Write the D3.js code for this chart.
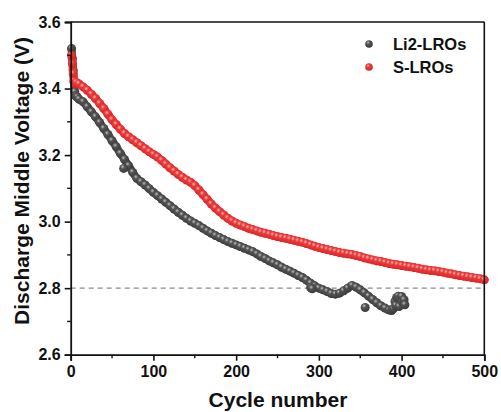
<!DOCTYPE html>
<html>
<head>
<meta charset="utf-8">
<script src="https://cdn.jsdelivr.net/npm/d3@7/dist/d3.min.js"></script>
<style>
  html, body { margin: 0; padding: 0; background: #fff; }
  svg text { font-family: "Liberation Sans", Arial, sans-serif; font-weight: bold; fill: #111; }
</style>
</head>
<body>
<svg id="chart" width="501" height="412"></svg>
<script>
// Discharge middle voltage per cycle, two cathode samples.
// Main trend of the Li2-LROs cell
const liCycles = [1,2,3,4,5,6,7,8,10,15,20,25,30,35,40,45,50,55,60,65,70,75,80,85,90,95,100,
  105,110,115,120,125,130,135,140,145,150,155,160,165,170,175,180,185,190,195,200,
  205,210,215,220,225,230,235,240,245,250,255,260,265,270,275,280,285,290,295,
  300,305,310,315,320,325,330,335,340,345,350,355,360,365,370,375,380,385,388,390];
const liVoltage = [3.520,3.490,3.455,3.420,3.390,3.378,3.376,3.374,3.368,3.360,3.345,3.330,3.315,3.298,3.280,3.262,3.243,3.225,3.205,3.187,3.168,3.148,3.130,3.120,3.110,3.099,3.088,
  3.078,3.068,3.058,3.048,3.038,3.028,3.019,3.010,3.002,2.995,2.988,2.980,2.972,2.965,2.958,2.952,2.946,2.940,2.935,2.930,
  2.925,2.920,2.915,2.910,2.903,2.895,2.889,2.882,2.876,2.870,2.863,2.857,2.851,2.845,2.838,2.832,2.824,2.815,2.807,
  2.800,2.795,2.790,2.784,2.782,2.785,2.792,2.800,2.808,2.803,2.795,2.786,2.776,2.766,2.756,2.747,2.740,2.734,2.733,2.738];
// Scattered Li2-LROs cycles (outliers and the end-of-life cluster)
const liScatterCycles = [64, 290, 291, 292, 356, 392, 393, 394, 396, 397, 398, 400, 401, 403, 404];
const liScatterVoltage = [3.160, 2.802, 2.800, 2.798, 2.742, 2.760, 2.748, 2.772, 2.776, 2.745, 2.768, 2.775, 2.758, 2.765, 2.750];

const sCycles = [1,2,3,4,5,7,10,15,20,25,30,35,40,45,50,55,60,65,70,75,80,85,90,95,100,
  105,110,115,120,125,130,135,140,145,150,155,160,165,170,175,180,185,190,195,200,
  205,210,215,220,225,230,235,240,245,250,255,260,265,270,275,280,285,290,295,300,
  305,310,315,320,325,330,335,340,345,350,355,360,365,370,375,380,385,390,395,400,
  405,410,415,420,425,430,435,440,445,450,455,460,465,470,475,480,485,490,495,500];
const sVoltage = [3.500,3.475,3.445,3.422,3.415,3.418,3.414,3.405,3.395,3.383,3.370,3.355,3.340,3.323,3.306,3.292,3.278,3.265,3.255,3.246,3.237,3.228,3.219,3.210,3.202,
  3.194,3.184,3.173,3.162,3.152,3.142,3.133,3.125,3.118,3.108,3.095,3.081,3.067,3.053,3.041,3.030,3.020,3.010,3.002,2.995,
  2.990,2.985,2.980,2.976,2.972,2.968,2.965,2.962,2.958,2.955,2.952,2.950,2.947,2.944,2.941,2.938,2.934,2.930,2.926,2.922,
  2.919,2.916,2.913,2.910,2.907,2.905,2.903,2.901,2.898,2.895,2.891,2.888,2.885,2.882,2.880,2.877,2.874,2.872,2.870,2.868,
  2.866,2.864,2.862,2.860,2.857,2.855,2.853,2.852,2.850,2.848,2.845,2.843,2.840,2.838,2.836,2.834,2.832,2.830,2.828,2.825];

const xTicks = [0, 100, 200, 300, 400, 500];
const xMinor = [50, 150, 250, 350, 450];
const yTicks = [2.6, 2.8, 3.0, 3.2, 3.4, 3.6];
const yMinor = [2.7, 2.9, 3.1, 3.3, 3.5];
const refVoltage = 2.8;
const seriesNames = ["Li2-LROs", "S-LROs"];

const svg = d3.select("#chart");
const x = d3.scaleLinear().domain([0, 500]).range([70.7, 484.3]);
const y = d3.scaleLinear().domain([2.6, 3.6]).range([354.7, 22]);

// shaded-sphere gradients for the markers
const defs = svg.append("defs");
function ball(id, hi, mid, edge) {
  const g = defs.append("radialGradient").attr("id", id)
    .attr("cx", "38%").attr("cy", "32%").attr("r", "68%");
  g.append("stop").attr("offset", "0%").attr("stop-color", hi);
  g.append("stop").attr("offset", "35%").attr("stop-color", mid);
  g.append("stop").attr("offset", "100%").attr("stop-color", edge);
}
ball("ballGray", "#bdbdbd", "#525252", "#3a3a3a");
ball("ballRed", "#ffb4b4", "#ec3a3a", "#d42424");

// reference line at 2.8 V
svg.append("line")
  .attr("x1", x(0)).attr("x2", x(500))
  .attr("y1", y(refVoltage)).attr("y2", y(refVoltage))
  .attr("stroke", "#8a8a8a").attr("stroke-width", 1.4)
  .attr("stroke-dasharray", "5,4");

const r = 4.5;
const liPts = liCycles.map((c, i) => [c, liVoltage[i]]);
const liScatter = liScatterCycles.map((c, i) => [c, liScatterVoltage[i]]);
const sPts = sCycles.map((c, i) => [c, sVoltage[i]]);
const line = d3.line().x(d => x(d[0])).y(d => y(d[1])).curve(d3.curveMonotoneX);

function drawSeries(pts, extra, fill, body) {
  const g = svg.append("g");
  // dense per-cycle markers merge into a continuous band
  g.append("path").datum(pts).attr("d", line)
    .attr("fill", "none").attr("stroke", body).attr("stroke-width", 8)
    .attr("stroke-linecap", "round").attr("stroke-linejoin", "round");
  g.append("g").selectAll("circle").data(pts.concat(extra)).join("circle")
    .attr("cx", d => x(d[0])).attr("cy", d => y(d[1])).attr("r", r)
    .attr("fill", fill);
}
drawSeries(liPts, liScatter, "url(#ballGray)", "#484848");
drawSeries(sPts, [], "url(#ballRed)", "#e33434");

// frame: top and right borders
svg.append("line").attr("x1", x(0)).attr("x2", x(500)).attr("y1", y(3.6)).attr("y2", y(3.6))
  .attr("stroke", "#111").attr("stroke-width", 1.6);
svg.append("line").attr("x1", x(500)).attr("x2", x(500)).attr("y1", y(3.6)).attr("y2", y(2.6))
  .attr("stroke", "#111").attr("stroke-width", 1.6);

// axes
const xAxis = svg.append("g").attr("transform", `translate(0,${y(2.6)})`)
  .call(d3.axisBottom(x).tickValues(xTicks).tickFormat(d3.format("d")).tickSize(6).tickPadding(5));
const yAxis = svg.append("g").attr("transform", `translate(${x(0)},0)`)
  .call(d3.axisLeft(y).tickValues(yTicks).tickFormat(d3.format(".1f")).tickSize(6).tickPadding(4));
[xAxis, yAxis].forEach(a => {
  a.select(".domain").attr("stroke", "#111").attr("stroke-width", 1.8);
  a.selectAll(".tick line").attr("stroke", "#111").attr("stroke-width", 1.6);
  a.selectAll(".tick text").style("font-size", "16px").style("font-family", "'Liberation Sans', Arial, sans-serif")
    .style("font-weight", "bold").attr("fill", "#111");
});
svg.append("g").selectAll("line").data(xMinor).join("line")
  .attr("x1", d => x(d)).attr("x2", d => x(d)).attr("y1", y(2.6)).attr("y2", y(2.6) + 3.5)
  .attr("stroke", "#111").attr("stroke-width", 1.4);
svg.append("g").selectAll("line").data(yMinor).join("line")
  .attr("y1", d => y(d)).attr("y2", d => y(d)).attr("x1", x(0)).attr("x2", x(0) - 3.5)
  .attr("stroke", "#111").attr("stroke-width", 1.4);

// axis titles
svg.append("text").attr("x", 278).attr("y", 407).attr("text-anchor", "middle")
  .style("font-size", "21px").text("Cycle number");
svg.append("text").attr("transform", "translate(29,181) rotate(-90)").attr("text-anchor", "middle")
  .style("font-size", "21px").text("Discharge Middle Voltage (V)");

// legend
const legend = svg.append("g");
const fills = ["url(#ballGray)", "url(#ballRed)"];
seriesNames.forEach((name, i) => {
  const ly = 44 + i * 23;
  legend.append("circle").attr("cx", 369).attr("cy", ly).attr("r", 3.8).attr("fill", fills[i]);
  legend.append("text").attr("x", 393).attr("y", ly + 6).style("font-size", "16.5px").text(name);
});
</script>
</body>
</html>
